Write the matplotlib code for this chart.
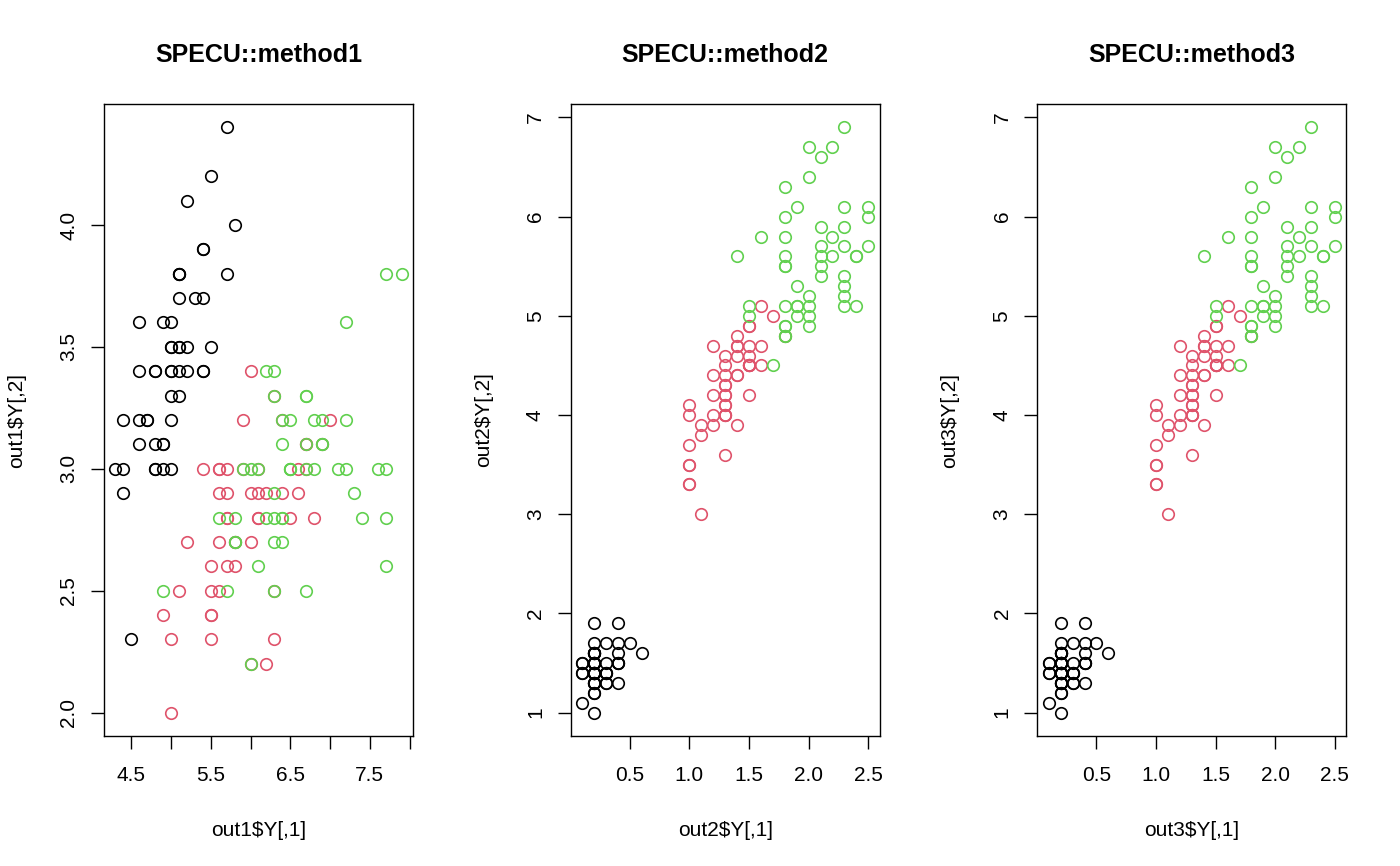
import matplotlib
matplotlib.use("Agg")
import matplotlib.pyplot as plt
import numpy as np

plt.rcParams['font.family'] = ['Liberation Sans', 'DejaVu Sans']

sepal_length = [5.1,4.9,4.7,4.6,5.0,5.4,4.6,5.0,4.4,4.9,5.4,4.8,4.8,4.3,5.8,5.7,5.4,5.1,5.7,5.1,
                5.4,5.1,4.6,5.1,4.8,5.0,5.0,5.2,5.2,4.7,4.8,5.4,5.2,5.5,4.9,5.0,5.5,4.9,4.4,5.1,
                5.0,4.5,4.4,5.0,5.1,4.8,5.1,4.6,5.3,5.0,
                7.0,6.4,6.9,5.5,6.5,5.7,6.3,4.9,6.6,5.2,5.0,5.9,6.0,6.1,5.6,6.7,5.6,5.8,6.2,5.6,
                5.9,6.1,6.3,6.1,6.4,6.6,6.8,6.7,6.0,5.7,5.5,5.5,5.8,6.0,5.4,6.0,6.7,6.3,5.6,5.5,
                5.5,6.1,5.8,5.0,5.6,5.7,5.7,6.2,5.1,5.7,
                6.3,5.8,7.1,6.3,6.5,7.6,4.9,7.3,6.7,7.2,6.5,6.4,6.8,5.7,5.8,6.4,6.5,7.7,7.7,6.0,
                6.9,5.6,7.7,6.3,6.7,7.2,6.2,6.1,6.4,7.2,7.4,7.9,6.4,6.3,6.1,7.7,6.3,6.4,6.0,6.9,
                6.7,6.9,5.8,6.8,6.7,6.7,6.3,6.5,6.2,5.9]
sepal_width = [3.5,3.0,3.2,3.1,3.6,3.9,3.4,3.4,2.9,3.1,3.7,3.4,3.0,3.0,4.0,4.4,3.9,3.5,3.8,3.8,
               3.4,3.7,3.6,3.3,3.4,3.0,3.4,3.5,3.4,3.2,3.1,3.4,4.1,4.2,3.1,3.2,3.5,3.6,3.0,3.4,
               3.5,2.3,3.2,3.5,3.8,3.0,3.8,3.2,3.7,3.3,
               3.2,3.2,3.1,2.3,2.8,2.8,3.3,2.4,2.9,2.7,2.0,3.0,2.2,2.9,2.9,3.1,3.0,2.7,2.2,2.5,
               3.2,2.8,2.5,2.8,2.9,3.0,2.8,3.0,2.9,2.6,2.4,2.4,2.7,2.7,3.0,3.4,3.1,2.3,3.0,2.5,
               2.6,3.0,2.6,2.3,2.7,3.0,2.9,2.9,2.5,2.8,
               3.3,2.7,3.0,2.9,3.0,3.0,2.5,2.9,2.5,3.6,3.2,2.7,3.0,2.5,2.8,3.2,3.0,3.8,2.6,2.2,
               3.2,2.8,2.8,2.7,3.3,3.2,2.8,3.0,2.8,3.0,2.8,3.8,2.8,2.8,2.6,3.0,3.4,3.1,3.0,3.1,
               3.1,3.1,2.7,3.2,3.3,3.0,2.5,3.0,3.4,3.0]
petal_length = [1.4,1.4,1.3,1.5,1.4,1.7,1.4,1.5,1.4,1.5,1.5,1.6,1.4,1.1,1.2,1.5,1.3,1.4,1.7,1.5,
                1.7,1.5,1.0,1.7,1.9,1.6,1.6,1.5,1.4,1.6,1.6,1.5,1.5,1.4,1.5,1.2,1.3,1.4,1.3,1.5,
                1.3,1.3,1.3,1.6,1.9,1.4,1.6,1.4,1.5,1.4,
                4.7,4.5,4.9,4.0,4.6,4.5,4.7,3.3,4.6,3.9,3.5,4.2,4.0,4.7,3.6,4.4,4.5,4.1,4.5,3.9,
                4.8,4.0,4.9,4.7,4.3,4.4,4.8,5.0,4.5,3.5,3.8,3.7,3.9,5.1,4.5,4.5,4.7,4.4,4.1,4.0,
                4.4,4.6,4.0,3.3,4.2,4.2,4.2,4.3,3.0,4.1,
                6.0,5.1,5.9,5.6,5.8,6.6,4.5,6.3,5.8,6.1,5.1,5.3,5.5,5.0,5.1,5.3,5.5,6.7,6.9,5.0,
                5.7,4.9,6.7,4.9,5.7,6.0,4.8,4.9,5.6,5.8,6.1,6.4,5.6,5.1,5.6,6.1,5.6,5.5,4.8,5.4,
                5.6,5.1,5.1,5.9,5.7,5.2,5.0,5.2,5.4,5.1]
petal_width = [0.2,0.2,0.2,0.2,0.2,0.4,0.3,0.2,0.2,0.1,0.2,0.2,0.1,0.1,0.2,0.4,0.4,0.3,0.3,0.3,
               0.2,0.4,0.2,0.5,0.2,0.2,0.4,0.2,0.2,0.2,0.2,0.4,0.1,0.2,0.2,0.2,0.2,0.1,0.2,0.2,
               0.3,0.3,0.2,0.6,0.4,0.3,0.2,0.2,0.2,0.2,
               1.4,1.5,1.5,1.3,1.5,1.3,1.6,1.0,1.3,1.4,1.0,1.5,1.0,1.4,1.3,1.4,1.5,1.0,1.5,1.1,
               1.8,1.3,1.5,1.2,1.3,1.4,1.4,1.7,1.5,1.0,1.1,1.0,1.2,1.6,1.5,1.6,1.5,1.3,1.3,1.3,
               1.2,1.4,1.2,1.0,1.3,1.2,1.3,1.3,1.1,1.3,
               2.5,1.9,2.1,1.8,2.2,2.1,1.7,1.8,1.8,2.5,2.0,1.9,2.1,2.0,2.4,2.3,1.8,2.2,2.3,1.5,
               2.3,2.0,2.0,1.8,2.1,1.8,1.8,1.8,2.1,1.6,1.9,2.0,2.2,1.5,1.4,2.3,2.4,1.8,1.8,2.1,
               2.4,2.3,1.9,2.3,2.5,2.3,1.9,2.0,2.3,1.8]
cluster = [1]*50 + [2]*50 + [3]*50

titles = ["SPECU::method1", "SPECU::method2", "SPECU::method3"]
xlabels = ["out1$Y[,1]", "out2$Y[,1]", "out3$Y[,1]"]
ylabels = ["out1$Y[,2]", "out2$Y[,2]", "out3$Y[,2]"]
palette = {1: "#000000", 2: "#DF536B", 3: "#61D04F"}

panels = [
    (sepal_length, sepal_width, np.arange(4.5, 8.01, 0.5), ["4.5", "", "5.5", "", "6.5", "", "7.5", ""],
     np.arange(2.0, 4.01, 0.5), ["2.0", "2.5", "3.0", "3.5", "4.0"]),
    (petal_width, petal_length, np.arange(0.5, 2.51, 0.5), ["0.5", "1.0", "1.5", "2.0", "2.5"],
     np.arange(1, 8), [str(v) for v in range(1, 8)]),
    (petal_width, petal_length, np.arange(0.5, 2.51, 0.5), ["0.5", "1.0", "1.5", "2.0", "2.5"],
     np.arange(1, 8), [str(v) for v in range(1, 8)]),
]

fig = plt.figure(figsize=(14, 8.66), dpi=100)
W, H = 1400, 866
for i, (xs, ys, xt, xtl, yt, ytl) in enumerate(panels):
    left = (W / 3 * i + 104) / W
    ax = fig.add_axes([left, 130 / H, 309 / W, 632 / H])
    xs = np.array(xs); ys = np.array(ys)
    cols = [palette[c] for c in cluster]
    for xv, yv, c in zip(xs, ys, cols):
        ax.plot(xv, yv, 'o', mfc='none', mec=c, ms=8.3, mew=1.2)
    xr = xs.max() - xs.min(); yr = ys.max() - ys.min()
    ax.set_xlim(xs.min() - 0.04 * xr, xs.max() + 0.04 * xr)
    ax.set_ylim(ys.min() - 0.04 * yr, ys.max() + 0.04 * yr)
    ax.set_xticks(xt)
    ax.set_xticklabels(xtl)
    ax.set_yticks(yt)
    ax.set_yticklabels(ytl, rotation=90, va='center')
    ax.tick_params(axis='both', length=9.5, width=1.0, labelsize=15, color='black')
    ax.tick_params(axis='x', pad=12)
    ax.tick_params(axis='y', pad=9)
    for s in ax.spines.values():
        s.set_linewidth(1.0)
    ax.set_title(titles[i], fontsize=18, fontweight='bold', pad=30)
    ax.set_xlabel(xlabels[i], fontsize=15, labelpad=26)
    ax.set_ylabel(ylabels[i], fontsize=15, labelpad=24)

fig.savefig("out.png", dpi=100)
